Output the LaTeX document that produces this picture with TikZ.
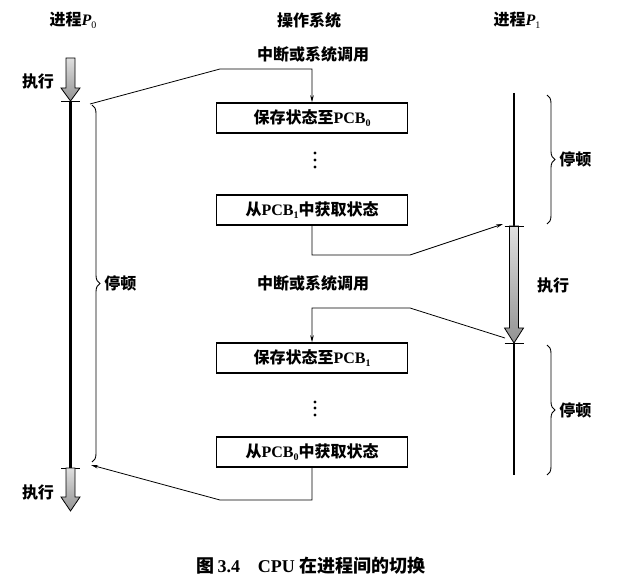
\documentclass[tikz,border=0pt]{standalone}
\usepackage{fontspec}
\setmainfont{Liberation Serif}
\newfontfamily\cjk{Noto Sans CJK SC}
\usetikzlibrary{arrows.meta,decorations.pathreplacing}

\newcommand{\pcb}[1]{{\rmfamily\bfseries PCB\raisebox{-2.5pt}{\fontsize{10}{10}\selectfont #1}}}
\newcommand{\proc}[1]{{\rmfamily\bfseries\itshape P\raisebox{-3pt}{\fontsize{10}{10}\selectfont\upshape\mdseries #1}}}

\tikzset{
  osbox/.style={draw, rectangle, line width=1.5pt, minimum width=191pt, minimum height=30pt, inner sep=0pt},
  lbl/.style={inner sep=0pt, font=\fontsize{16}{18}\selectfont\cjk\bfseries},
  runline/.style={line width=2.6pt},
  tick/.style={line width=0.9pt},
  link/.style={line width=0.8pt},
  exec/.style={draw=black, line width=0.8pt, top color=gray!25, bottom color=gray!85},
  pause/.style={decorate, decoration={brace, amplitude=8pt}, line width=0.9pt}
}

\begin{document}
\begin{tikzpicture}[x=1pt, y=-1pt, >={Stealth[length=7pt,width=3.5pt]}]
  \useasboundingbox (0,0) rectangle (633,583);

  % headings
  \node (p0) [lbl] at (73,20) {进程\proc{0}};
  \node (os) [lbl] at (309,20) {操作系统};
  \node (p1) [lbl] at (517,20) {进程\proc{1}};
  \node (int1) [lbl] at (313,54) {中断或系统调用};
  \node (int2) [lbl] at (313,283) {中断或系统调用};

  % kernel boxes
  \node (save0) [osbox, lbl] at (312,118) {保存状态至\pcb{0}};
  \node (load1) [osbox, lbl] at (312,210) {从\pcb{1}中获取状态};
  \node (save1) [osbox, lbl] at (312,358) {保存状态至\pcb{1}};
  \node (load0) [osbox, lbl] at (312,452) {从\pcb{0}中获取状态};
  \foreach \y in {153,160,167,402,408,415}
    \fill (315,\y) circle (1.6pt);

  % process P0
  \coordinate (a0) at (70.5,101);
  \coordinate (b0) at (70.5,468);
  \shade[exec] (66,58) -- (75,58) -- (75,88) -- (80,88) -- (a0) -- (61,88) -- (66,88) -- cycle;
  \draw[runline] (a0) -- (b0);
  \draw[tick] (61,101) -- (80,101);
  \draw[tick] (61,468) -- (80,468);
  \shade[exec] (66,468) -- (75,468) -- (75,497) -- (80,497) -- (70.5,511) -- (61,497) -- (66,497) -- cycle;
  \node (run0a) [lbl] at (38,81) {执行};
  \node (run0b) [lbl] at (38,492) {执行};
  \draw[pause] (92,105) -- (92,462) node (wait0) [lbl, midway, right=12pt] {停顿};

  % process P1
  \coordinate (a1) at (514,226);
  \coordinate (b1) at (514,343);
  \draw[runline] (514,93) -- (a1);
  \draw[runline] (b1) -- (514,475);
  \shade[exec] (509.5,226) -- (518.5,226) -- (518.5,328) -- (523.5,328) -- (b1) -- (504.5,328) -- (509.5,328) -- cycle;
  \draw[tick] (504.5,226) -- (523.5,226);
  \draw[tick] (504.5,343) -- (523.5,343);
  \node (run1) [lbl] at (553,285) {执行};
  \draw[pause] (547,95) -- (547,224) node (wait1a) [lbl, midway, right=12pt] {停顿};
  \draw[pause] (547,345) -- (547,475) node (wait1b) [lbl, midway, right=12pt] {停顿};

  % switches
  \draw[link, ->] (90,104) -- (220,69) -| (save0.north);
  \draw[link, ->] (load1.south) |- (410,255) -- (503,224);
  \draw[link, ->] (505,338) -- (410,308) -| (save1.north);
  \draw[link, ->] (load0.south) |- (220,500) -- (91,465);

  \node (caption) [font=\fontsize{18}{20}\selectfont\bfseries] at (311,566) {{\cjk 图}\,3.4\quad CPU {\cjk 在进程间的切换}};
\end{tikzpicture}
\end{document}
